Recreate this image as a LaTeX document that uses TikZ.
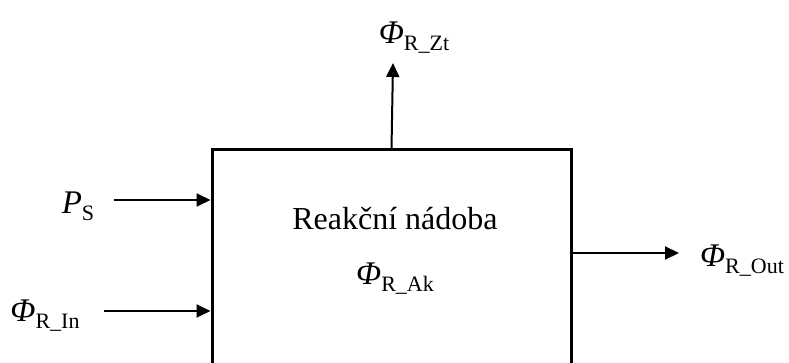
\documentclass[tikz,border=0pt]{standalone}
\usepackage{fontspec}
\setmainfont{Liberation Serif}
\usetikzlibrary{arrows.meta}
\newcommand{\fluxlab}[1]{{\itshape Φ}{\fontsize{22}{22}\selectfont\raisebox{-7pt}{#1}}}

\begin{document}
\begin{tikzpicture}[inner sep=0pt,x=1pt,y=1pt]
\useasboundingbox (0,0) rectangle (789,-363);
\clip (0,0) rectangle (789,-363);
\tikzset{flow/.style={-{Triangle[length=14pt,width=13pt]},line width=2pt}}
\node (vessel) [minimum height=260pt, minimum width=359pt,at={(391.5,-280)}, draw, line width=3pt, shape=rectangle] {};
\node (n1) [at={(395,-219)},font=\fontsize{32}{34}\selectfont] {Reakční nádoba};
\node (n2) [at={(395,-279)},font=\fontsize{33}{35}\selectfont] {\fluxlab{R\_Ak}};
\node (n3) [at={(78,-206)},font=\fontsize{33}{35}\selectfont] {{\itshape P}{\fontsize{22}{22}\selectfont\raisebox{-7pt}{S}}};
\node (n4) [at={(45,-316)},font=\fontsize{33}{35}\selectfont] {\fluxlab{R\_In}};
\node (n5) [at={(414,-38)},font=\fontsize{33}{35}\selectfont] {\fluxlab{R\_Zt}};
\node (n6) [at={(742,-261)},font=\fontsize{33}{35}\selectfont] {\fluxlab{R\_Out}};

\coordinate (c0) at (114,-200);
\coordinate (c1) at (104,-311);
\coordinate (c2) at (393,-63);
\coordinate (c3) at (679,-253);

\path [flow,draw](c0)--(vessel.west |- c0);
\path [flow,draw](c1)--(vessel.west |- c1);
\path [flow,draw](vessel.north)--(c2);
\path [flow,draw](vessel.east |- c3)--(c3);
\end{tikzpicture}
\end{document}
